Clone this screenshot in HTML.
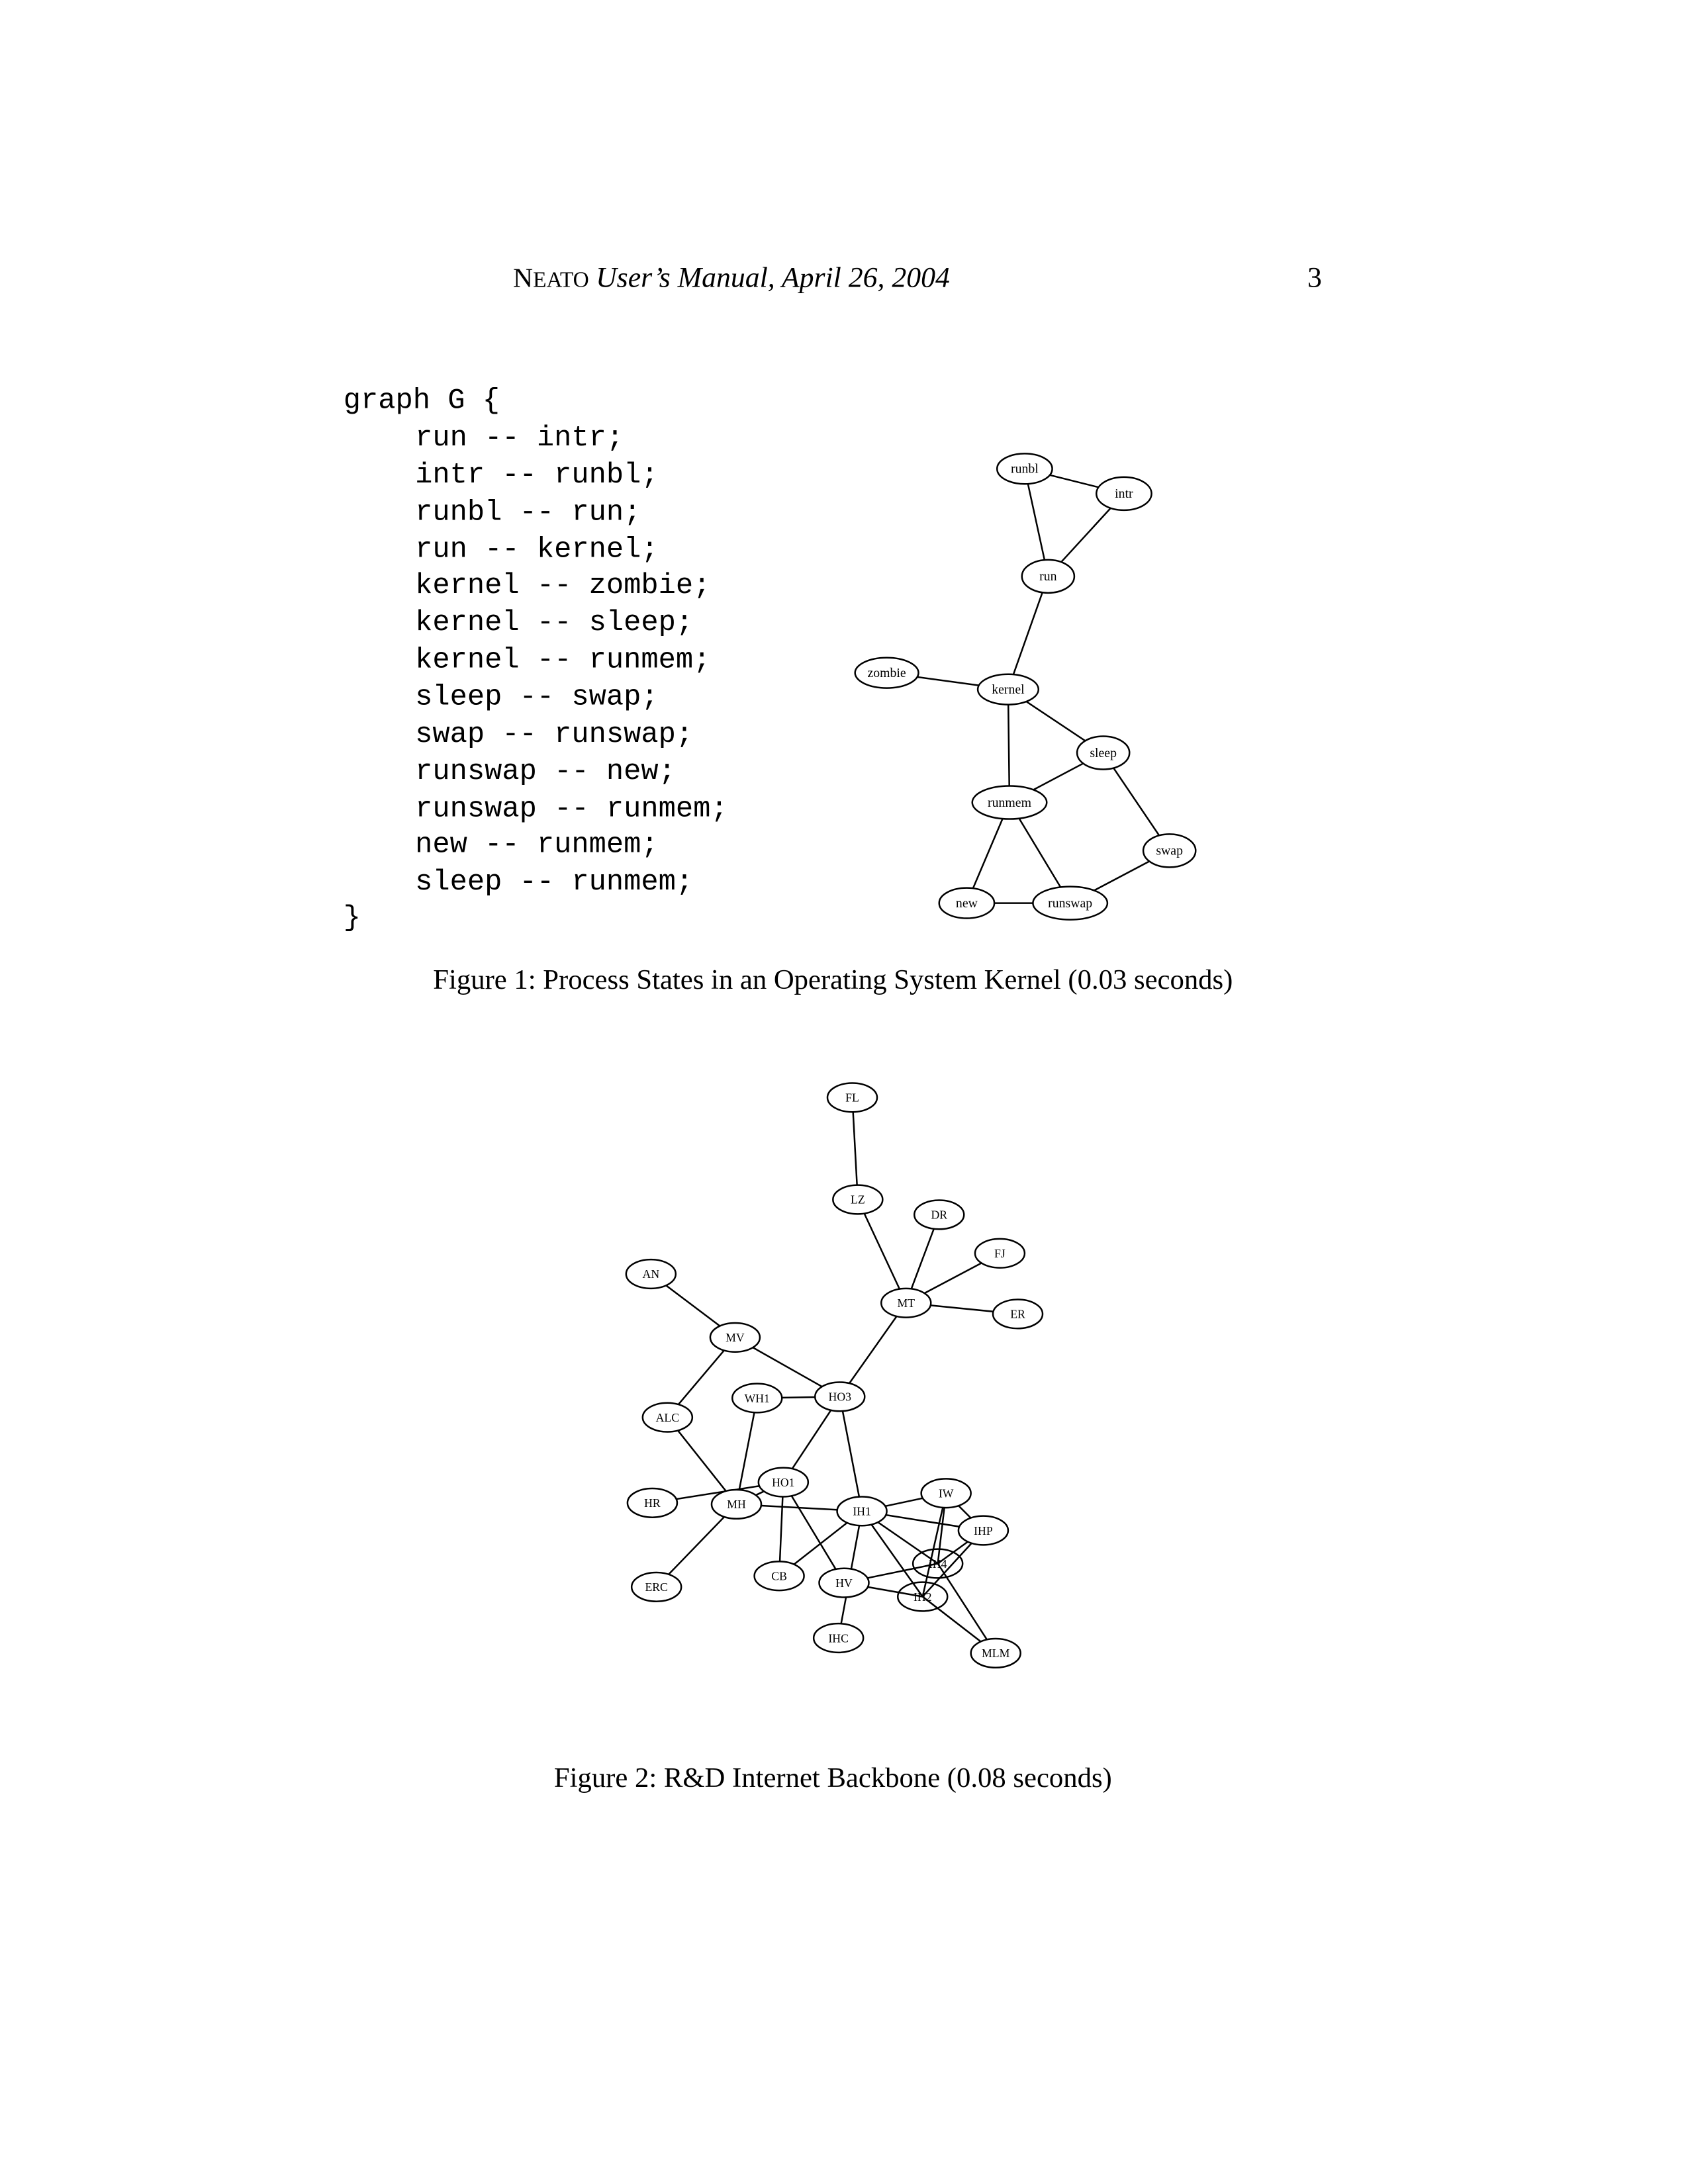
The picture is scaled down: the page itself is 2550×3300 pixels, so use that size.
<!DOCTYPE html>
<html><head><meta charset="utf-8"><style>
html,body{margin:0;padding:0;background:#fff;}
svg{display:block;}
</style></head><body>
<svg width="2550" height="3300" viewBox="0 0 1224 1584" xmlns="http://www.w3.org/2000/svg">
<rect width="1224" height="1584" fill="#fff"/>
<g font-family="Liberation Serif, serif" fill="#000">
<text x="372" y="208" font-size="20">N<tspan font-size="16">EATO</tspan> <tspan font-style="italic" font-size="21">User’s Manual, April 26, 2004</tspan></text>
<text x="948" y="208" font-size="21">3</text>
</g>
<g font-family="Liberation Mono, monospace" font-size="21" fill="#000" xml:space="preserve">
<text x="249" y="296">graph G {</text>
<text x="301" y="323">run -- intr;</text>
<text x="301" y="350">intr -- runbl;</text>
<text x="301" y="377">runbl -- run;</text>
<text x="301" y="404">run -- kernel;</text>
<text x="301" y="430">kernel -- zombie;</text>
<text x="301" y="457">kernel -- sleep;</text>
<text x="301" y="484">kernel -- runmem;</text>
<text x="301" y="511">sleep -- swap;</text>
<text x="301" y="538">swap -- runswap;</text>
<text x="301" y="565">runswap -- new;</text>
<text x="301" y="592">runswap -- runmem;</text>
<text x="301" y="618">new -- runmem;</text>
<text x="301" y="645">sleep -- runmem;</text>
<text x="249" y="671">}</text>
</g>
<g stroke="#000" stroke-width="1.2">
<line x1="743" y1="340" x2="815" y2="358"/>
<line x1="815" y1="358" x2="760" y2="418"/>
<line x1="743" y1="340" x2="760" y2="418"/>
<line x1="760" y1="418" x2="731" y2="500"/>
<line x1="643" y1="488" x2="731" y2="500"/>
<line x1="731" y1="500" x2="800" y2="546"/>
<line x1="731" y1="500" x2="732" y2="582"/>
<line x1="800" y1="546" x2="848" y2="617"/>
<line x1="800" y1="546" x2="732" y2="582"/>
<line x1="848" y1="617" x2="776" y2="655"/>
<line x1="776" y1="655" x2="701" y2="655"/>
<line x1="776" y1="655" x2="732" y2="582"/>
<line x1="701" y1="655" x2="732" y2="582"/>
</g>
<g stroke="#000" stroke-width="1.2" fill="#fff">
<ellipse cx="743" cy="340" rx="20" ry="11"/>
<ellipse cx="815" cy="358" rx="20" ry="12"/>
<ellipse cx="760" cy="418" rx="19" ry="12"/>
<ellipse cx="643" cy="488" rx="23" ry="11"/>
<ellipse cx="731" cy="500" rx="22" ry="11"/>
<ellipse cx="800" cy="546" rx="19" ry="12"/>
<ellipse cx="732" cy="582" rx="27" ry="12"/>
<ellipse cx="848" cy="617" rx="19" ry="12"/>
<ellipse cx="701" cy="655" rx="20" ry="11"/>
<ellipse cx="776" cy="655" rx="27" ry="12"/>
</g>
<g font-family="Liberation Serif, serif" font-size="9.5" text-anchor="middle" fill="#000">
<text x="743" y="343">runbl</text>
<text x="815" y="361">intr</text>
<text x="760" y="421">run</text>
<text x="643" y="491">zombie</text>
<text x="731" y="503">kernel</text>
<text x="800" y="549">sleep</text>
<text x="732" y="585">runmem</text>
<text x="848" y="620">swap</text>
<text x="701" y="658">new</text>
<text x="776" y="658">runswap</text>
</g>
<text x="604" y="717" font-family="Liberation Serif, serif" font-size="20.5" text-anchor="middle">Figure 1: Process States in an Operating System Kernel (0.03 seconds)</text>

<g stroke="#000" stroke-width="1.2">
<line x1="618" y1="796" x2="622" y2="870"/>
<line x1="622" y1="870" x2="657" y2="945"/>
<line x1="681" y1="881" x2="657" y2="945"/>
<line x1="725" y1="909" x2="657" y2="945"/>
<line x1="738" y1="953" x2="657" y2="945"/>
<line x1="657" y1="945" x2="609" y2="1013"/>
<line x1="472" y1="924" x2="533" y2="970"/>
<line x1="533" y1="970" x2="609" y2="1013"/>
<line x1="533" y1="970" x2="484" y2="1028"/>
<line x1="549" y1="1014" x2="609" y2="1013"/>
<line x1="549" y1="1014" x2="534" y2="1091"/>
<line x1="484" y1="1028" x2="534" y2="1091"/>
<line x1="609" y1="1013" x2="568" y2="1075"/>
<line x1="609" y1="1013" x2="625" y2="1096"/>
<line x1="568" y1="1075" x2="534" y2="1091"/>
<line x1="473" y1="1090" x2="568" y2="1075"/>
<line x1="568" y1="1075" x2="565" y2="1143"/>
<line x1="568" y1="1075" x2="612" y2="1148"/>
<line x1="534" y1="1091" x2="625" y2="1096"/>
<line x1="534" y1="1091" x2="476" y2="1151"/>
<line x1="625" y1="1096" x2="686" y2="1083"/>
<line x1="625" y1="1096" x2="713" y2="1110"/>
<line x1="625" y1="1096" x2="680" y2="1134"/>
<line x1="625" y1="1096" x2="669" y2="1158"/>
<line x1="625" y1="1096" x2="565" y2="1143"/>
<line x1="625" y1="1096" x2="608" y2="1188"/>
<line x1="686" y1="1083" x2="713" y2="1110"/>
<line x1="686" y1="1083" x2="680" y2="1134"/>
<line x1="686" y1="1083" x2="669" y2="1158"/>
<line x1="713" y1="1110" x2="680" y2="1134"/>
<line x1="713" y1="1110" x2="669" y2="1158"/>
<line x1="680" y1="1134" x2="612" y2="1148"/>
<line x1="680" y1="1134" x2="722" y2="1199"/>
<line x1="612" y1="1148" x2="669" y2="1158"/>
<line x1="669" y1="1158" x2="722" y2="1199"/>
</g>
<g stroke="#000" stroke-width="1.2" fill="#fff">
<ellipse cx="618" cy="796" rx="18" ry="10.5"/>
<ellipse cx="622" cy="870" rx="18" ry="10.5"/>
<ellipse cx="681" cy="881" rx="18" ry="10.5"/>
<ellipse cx="725" cy="909" rx="18" ry="10.5"/>
<ellipse cx="472" cy="924" rx="18" ry="10.5"/>
<ellipse cx="657" cy="945" rx="18" ry="10.5"/>
<ellipse cx="738" cy="953" rx="18" ry="10.5"/>
<ellipse cx="533" cy="970" rx="18" ry="10.5"/>
<ellipse cx="549" cy="1014" rx="18" ry="10.5"/>
<ellipse cx="609" cy="1013" rx="18" ry="10.5"/>
<ellipse cx="484" cy="1028" rx="18" ry="10.5"/>
<ellipse cx="473" cy="1090" rx="18" ry="10.5"/>
<ellipse cx="534" cy="1091" rx="18" ry="10.5"/>
<ellipse cx="568" cy="1075" rx="18" ry="10.5"/>
<ellipse cx="625" cy="1096" rx="18" ry="10.5"/>
<ellipse cx="686" cy="1083" rx="18" ry="10.5"/>
<ellipse cx="713" cy="1110" rx="18" ry="10.5"/>
<ellipse cx="565" cy="1143" rx="18" ry="10.5"/>
<ellipse cx="612" cy="1148" rx="18" ry="10.5"/>
<ellipse cx="476" cy="1151" rx="18" ry="10.5"/>
<ellipse cx="608" cy="1188" rx="18" ry="10.5"/>
<ellipse cx="722" cy="1199" rx="18" ry="10.5"/>
</g>
<g stroke="#000" stroke-width="1.2" fill="none">
<ellipse cx="680" cy="1134" rx="18" ry="10.5"/>
<ellipse cx="669" cy="1158" rx="18" ry="10.5"/>
</g>
<g font-family="Liberation Serif, serif" font-size="8.5" text-anchor="middle" fill="#000">
<text x="618" y="799">FL</text>
<text x="622" y="873">LZ</text>
<text x="681" y="884">DR</text>
<text x="725" y="912">FJ</text>
<text x="472" y="927">AN</text>
<text x="657" y="948">MT</text>
<text x="738" y="956">ER</text>
<text x="533" y="973">MV</text>
<text x="549" y="1017">WH1</text>
<text x="609" y="1016">HO3</text>
<text x="484" y="1031">ALC</text>
<text x="473" y="1093">HR</text>
<text x="534" y="1094">MH</text>
<text x="568" y="1078">HO1</text>
<text x="625" y="1099">IH1</text>
<text x="686" y="1086">IW</text>
<text x="713" y="1113">IHP</text>
<text x="680" y="1137">IH4</text>
<text x="565" y="1146">CB</text>
<text x="612" y="1151">HV</text>
<text x="669" y="1161">IH2</text>
<text x="476" y="1154">ERC</text>
<text x="608" y="1191">IHC</text>
<text x="722" y="1202">MLM</text>
</g>
<text x="604" y="1296" font-family="Liberation Serif, serif" font-size="20.5" text-anchor="middle">Figure 2: R&amp;D Internet Backbone (0.08 seconds)</text>
</svg>
</body></html>
